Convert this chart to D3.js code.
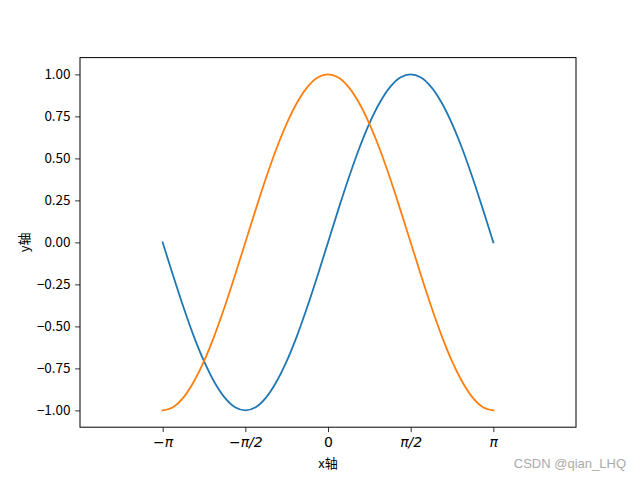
<!DOCTYPE html>
<html>
<head>
<meta charset="utf-8">
<script src="https://cdn.jsdelivr.net/npm/d3@7"></script>
<style>
body { margin: 0; background: #fff; }
svg { display: block; }
</style>
</head>
<body>
<svg id="chart" width="640" height="480"></svg>
<script>
const xs = [-3.142, -2.945, -2.749, -2.553, -2.356, -2.160, -1.963, -1.767, -1.571, -1.374, -1.178, -0.982, -0.785, -0.589, -0.393, -0.196,
	0, 0.196, 0.393, 0.589, 0.785, 0.982, 1.178, 1.374, 1.571, 1.767, 1.963, 2.160, 2.356, 2.553, 2.749, 2.945, 3.142];
const sinVals = [0, -0.195, -0.383, -0.556, -0.707, -0.831, -0.924, -0.981, -1, -0.981, -0.924, -0.831, -0.707, -0.556, -0.383, -0.195,
	0, 0.195, 0.383, 0.556, 0.707, 0.831, 0.924, 0.981, 1, 0.981, 0.924, 0.831, 0.707, 0.556, 0.383, 0.195, 0];
const cosVals = [-1, -0.981, -0.924, -0.831, -0.707, -0.556, -0.383, -0.195, 0, 0.195, 0.383, 0.556, 0.707, 0.831, 0.924, 0.981,
	1, 0.981, 0.924, 0.831, 0.707, 0.556, 0.383, 0.195, 0, -0.195, -0.383, -0.556, -0.707, -0.831, -0.924, -0.981, -1];
const xTicks = [-Math.PI, -Math.PI / 2, 0, Math.PI / 2, Math.PI];
const xTickLabels = ["−π", "−π/2", "0", "π/2", "π"];
const yTicks = [-1, -0.75, -0.5, -0.25, 0, 0.25, 0.5, 0.75, 1];
const series = [
	{ name: "sin", values: sinVals, color: "#1f77b4" },
	{ name: "cos", values: cosVals, color: "#ff7f0e" }
];

const svg = d3.select("#chart");
const margin = { top: 57.6, right: 64, bottom: 52.8, left: 80 };
const width = 640 - margin.left - margin.right;
const height = 480 - margin.top - margin.bottom;

const xScale = d3.scaleLinear().domain([-1.5 * Math.PI, 1.5 * Math.PI]).range([0, width]);
const yScale = d3.scaleLinear().domain([-1.1, 1.1]).range([height, 0]);

const g = svg.append("g").attr("transform", `translate(${margin.left}, ${margin.top})`);

// lines
const line = d3.line()
	.x((d) => xScale(d[0]))
	.y((d) => yScale(d[1]))
	.curve(d3.curveCatmullRom);

g.selectAll(".line")
	.data(series)
	.enter()
	.append("path")
	.attr("fill", "none")
	.attr("stroke", (d) => d.color)
	.attr("stroke-width", 1.8)
	.attr("stroke-linecap", "square")
	.attr("d", (d) => line(d.values.map((v, i) => [xs[i], v])));

// frame
g.append("rect")
	.attr("width", width)
	.attr("height", height)
	.attr("fill", "none")
	.attr("stroke", "#000")
	.attr("stroke-width", 1);

// axes
const xAxis = g.append("g")
	.attr("transform", `translate(0, ${height})`)
	.call(d3.axisBottom(xScale).tickValues(xTicks).tickFormat((d, i) => xTickLabels[i]).tickSize(4.9).tickPadding(4.5));
const yAxis = g.append("g")
	.call(d3.axisLeft(yScale).tickValues(yTicks).tickFormat(d3.format(".2f")).tickSize(4.9).tickPadding(4.5));

[xAxis, yAxis].forEach((a) => {
	a.select(".domain").remove();
	a.selectAll(".tick line").attr("stroke", "#000").attr("stroke-width", 0.8);
});
xAxis.selectAll("text")
	.style("font", "italic 14px 'DejaVu Sans'")
	.attr("fill", "#000");
xAxis.selectAll(".tick")
	.filter((d) => d === 0)
	.select("text")
	.style("font-style", "normal");
yAxis.selectAll("text")
	.style("font", "13.5px 'Noto Sans CJK SC'")
	.attr("fill", "#000")
	.text((d) => d3.format(".2f")(d).replace("-", "−"));

// axis labels
svg.append("text")
	.attr("x", margin.left + width / 2)
	.attr("y", 468)
	.attr("text-anchor", "middle")
	.style("font", "13px 'Noto Sans CJK SC'")
	.text("x轴");
svg.append("text")
	.attr("transform", `translate(29, ${margin.top + height / 2}) rotate(-90)`)
	.attr("text-anchor", "middle")
	.style("font", "13px 'Noto Sans CJK SC'")
	.text("y轴");

// watermark
svg.append("text")
	.attr("x", 626)
	.attr("y", 468)
	.attr("text-anchor", "end")
	.attr("fill", "#aaa")
	.style("font", "13px 'Liberation Sans'")
	.text("CSDN @qian_LHQ");
</script>
</body>
</html>
